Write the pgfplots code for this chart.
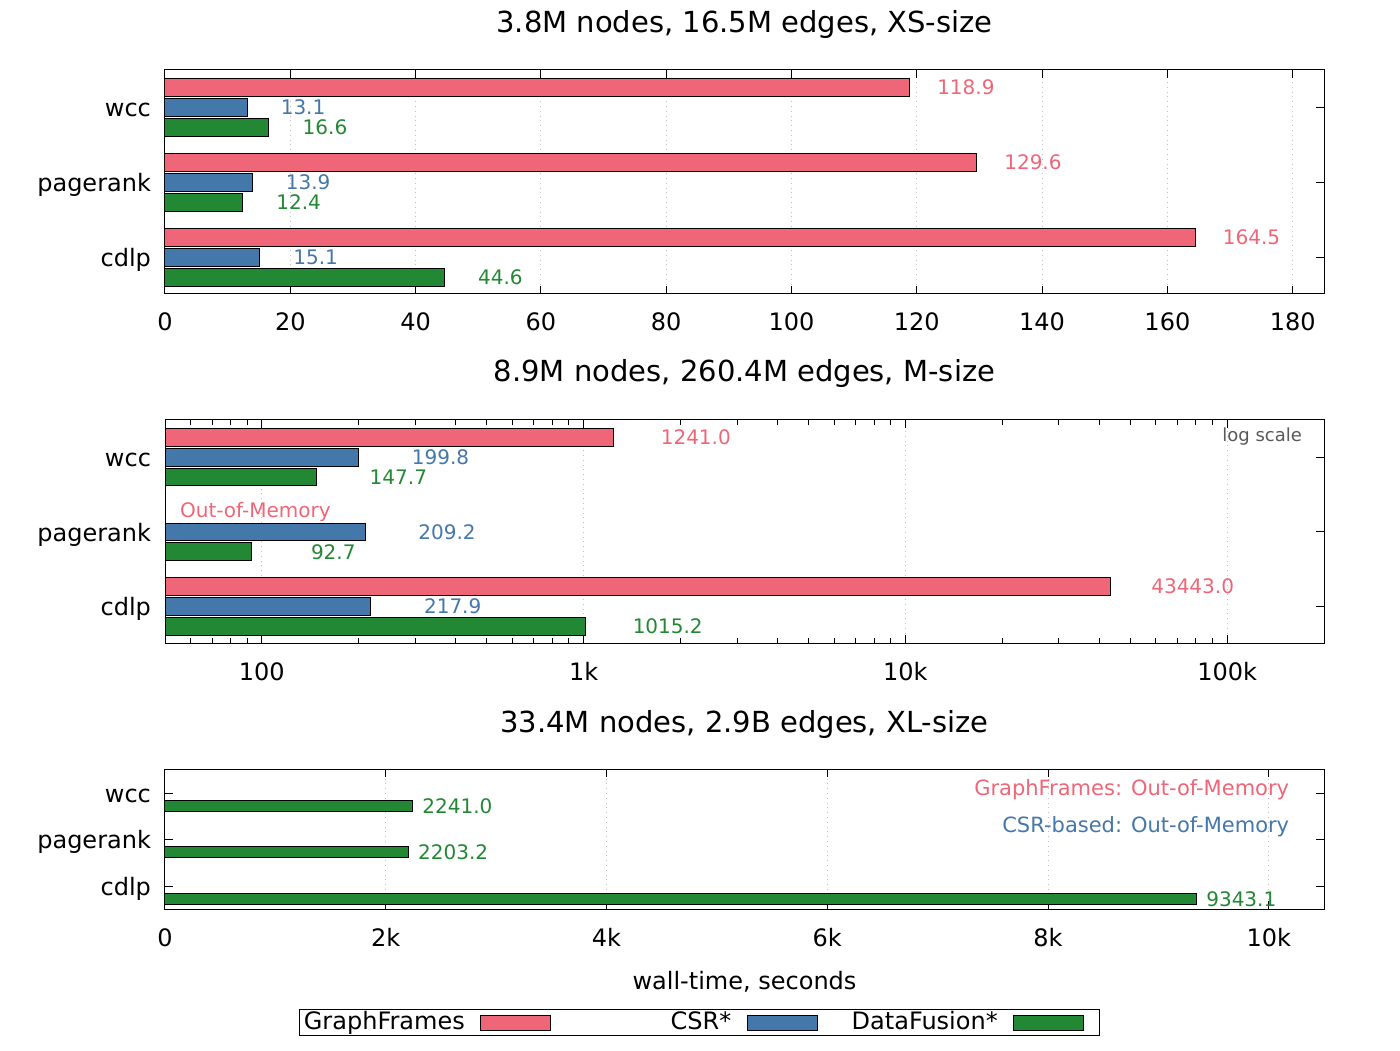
\documentclass[border=0pt]{standalone}
\usepackage{pgfplots}
\pgfplotsset{compat=1.18}
\usepackage{fontspec}
\setmainfont{DejaVu Sans}
\definecolor{pinkc}{HTML}{EE6677}
\definecolor{bluec}{HTML}{4477AA}
\definecolor{greenc}{HTML}{228833}
\pgfplotsset{
  base/.style={
    scale only axis, width=579.5pt, anchor=south west,
    xbar, bar width=0.236, scaled x ticks=false,
    ymin=-0.49, ymax=2.5, ytick={0,1,2}, yticklabels={cdlp,pagerank,wcc},
    tick align=inside, major tick length=4pt, minor tick length=2.5pt,
    axis line style={line width=0.5pt},
    every tick/.style={black, line width=0.5pt},
    xmajorgrids, major grid style={dotted, black!25, line width=0.5pt},
    tick label style={font=\fontsize{12}{14}\selectfont},
    yticklabel style={anchor=east, text height=9.2pt, text depth=0pt, xshift=-3.5pt},
    xticklabel style={anchor=base, yshift=-18.5pt},
    title style={font=\fontsize{14.5}{17}\selectfont, anchor=base, at={(0.5,1)}},
    nodes near coords, point meta=explicit symbolic,
  },
}
\begin{document}
\begin{tikzpicture}
\path[use as bounding box] (0,0) rectangle (700pt,525pt);
% ---------- Panel 1 ----------
\begin{axis}[base, at={(82.5pt,378pt)}, height=112pt,
  title={3.8M nodes, 16.5M edges, XS-size}, title style={yshift=12.8pt},
  xmin=0, xmax=185, xtick={0,20,40,60,80,100,120,140,160,180},
  xticklabels={0,20,40,60,80,100,120,140,160,180}]
\addplot[fill=pinkc, draw=black, line width=0.5pt, bar shift=0.2667,
  nodes near coords style={text=pinkc, anchor=center, xshift=28pt, font=\fontsize{10}{12}\selectfont}]
  table[x=x, y=y, meta=l] {
x y l
118.9 2 118.9
129.6 1 129.6
164.5 0 164.5
};
\addplot[fill=bluec, draw=black, line width=0.5pt, bar shift=0,
  nodes near coords style={text=bluec, anchor=center, xshift=28pt, font=\fontsize{10}{12}\selectfont}]
  table[x=x, y=y, meta=l] {
x y l
13.1 2 13.1
13.9 1 13.9
15.1 0 15.1
};
\addplot[fill=greenc, draw=black, line width=0.5pt, bar shift=-0.2667,
  nodes near coords style={text=greenc, anchor=center, xshift=28pt, font=\fontsize{10}{12}\selectfont}]
  table[x=x, y=y, meta=l] {
x y l
16.6 2 16.6
12.4 1 12.4
44.6 0 44.6
};
\end{axis}
% ---------- Panel 2 ----------
\begin{axis}[base, at={(82.5pt,203.5pt)}, height=111.5pt, xmode=log, log origin x=infty,
  title={8.9M nodes, 260.4M edges, M-size}, title style={yshift=13pt},
  xmin=50, xmax=200000, xtick={100,1000,10000,100000},
  xticklabels={100,1k,10k,100k},
  minor xtick={60,70,80,90,200,300,400,500,600,700,800,900,2000,3000,4000,5000,6000,7000,8000,9000,20000,30000,40000,50000,60000,70000,80000,90000}]
\addplot[fill=pinkc, draw=black, line width=0.5pt, bar shift=0.2667,
  nodes near coords style={text=pinkc, anchor=center, xshift=41pt, font=\fontsize{10}{12}\selectfont}]
  table[x=x, y=y, meta=l] {
x y l
1241.0 2 1241.0
43443.0 0 43443.0
};
\addplot[fill=bluec, draw=black, line width=0.5pt, bar shift=0,
  nodes near coords style={text=bluec, anchor=center, xshift=41pt, font=\fontsize{10}{12}\selectfont}]
  table[x=x, y=y, meta=l] {
x y l
199.8 2 199.8
209.2 1 209.2
217.9 0 217.9
};
\addplot[fill=greenc, draw=black, line width=0.5pt, bar shift=-0.2667,
  nodes near coords style={text=greenc, anchor=center, xshift=41pt, font=\fontsize{10}{12}\selectfont}]
  table[x=x, y=y, meta=l] {
x y l
147.7 2 147.7
92.7 1 92.7
1015.2 0 1015.2
};
\node[text=pinkc, font=\fontsize{10}{12}\selectfont, anchor=center] at (axis cs:95.5,1.2667) {Out-of-Memory};
\node[text=black!65, font=\fontsize{9}{11}\selectfont, anchor=east] at (axis description cs:0.987,0.925) {log scale};
\end{axis}
% ---------- Panel 3 ----------
\begin{axis}[base, at={(82.5pt,70.5pt)}, height=70pt, ymin=-0.49, ymax=2.52, bar width=0.23,
  title={33.4M nodes, 2.9B edges, XL-size}, title style={yshift=12.4pt},
  xmin=0, xmax=10500, xtick={0,2000,4000,6000,8000,10000},
  xticklabels={0,2k,4k,6k,8k,10k},
  xlabel={wall-time, seconds},
  xlabel style={font=\fontsize{12}{14}\selectfont, at={(axis description cs:0.5,0)}, anchor=base, yshift=-40pt},
  legend columns=3, legend plot pos=right,
  legend image code/.code={\path[draw=none, fill=none] (0pt,0pt) -- (50.75pt,0pt); \draw[#1, draw=black, line width=0.5pt] (8pt,-3.75pt) rectangle (43pt,3.75pt);},
  legend style={at={(axis description cs:0.4612,-0.8107)}, anchor=center, draw=black, line width=0.5pt,
    inner sep=0pt, font=\fontsize{12}{14}\selectfont,
    nodes={inner sep=0pt, text height=10pt, text depth=3pt},
    /tikz/every odd column/.append style={text width=82.5pt, align=right}},
]
\addlegendimage{fill=pinkc}
\addlegendimage{fill=bluec}
\addlegendimage{fill=greenc}
\addplot[forget plot, fill=greenc, draw=black, line width=0.5pt, bar shift=-0.27,
  nodes near coords style={text=greenc, anchor=center, xshift=22.5pt, font=\fontsize{10}{12}\selectfont}]
  table[x=x, y=y, meta=l] {
x y l
2241.0 2 2241.0
2203.2 1 2203.2
9343.1 0 9343.1
};
\node[text=pinkc, font=\fontsize{10.5}{12}\selectfont, anchor=east] at (axis description cs:0.976,0.852) {GraphFrames: Out-of-Memory};
\node[text=bluec, font=\fontsize{10.5}{12}\selectfont, anchor=east] at (axis description cs:0.976,0.587) {CSR-based: Out-of-Memory};
\legend{GraphFrames,CSR*,DataFusion*}
\end{axis}
\end{tikzpicture}
\end{document}
